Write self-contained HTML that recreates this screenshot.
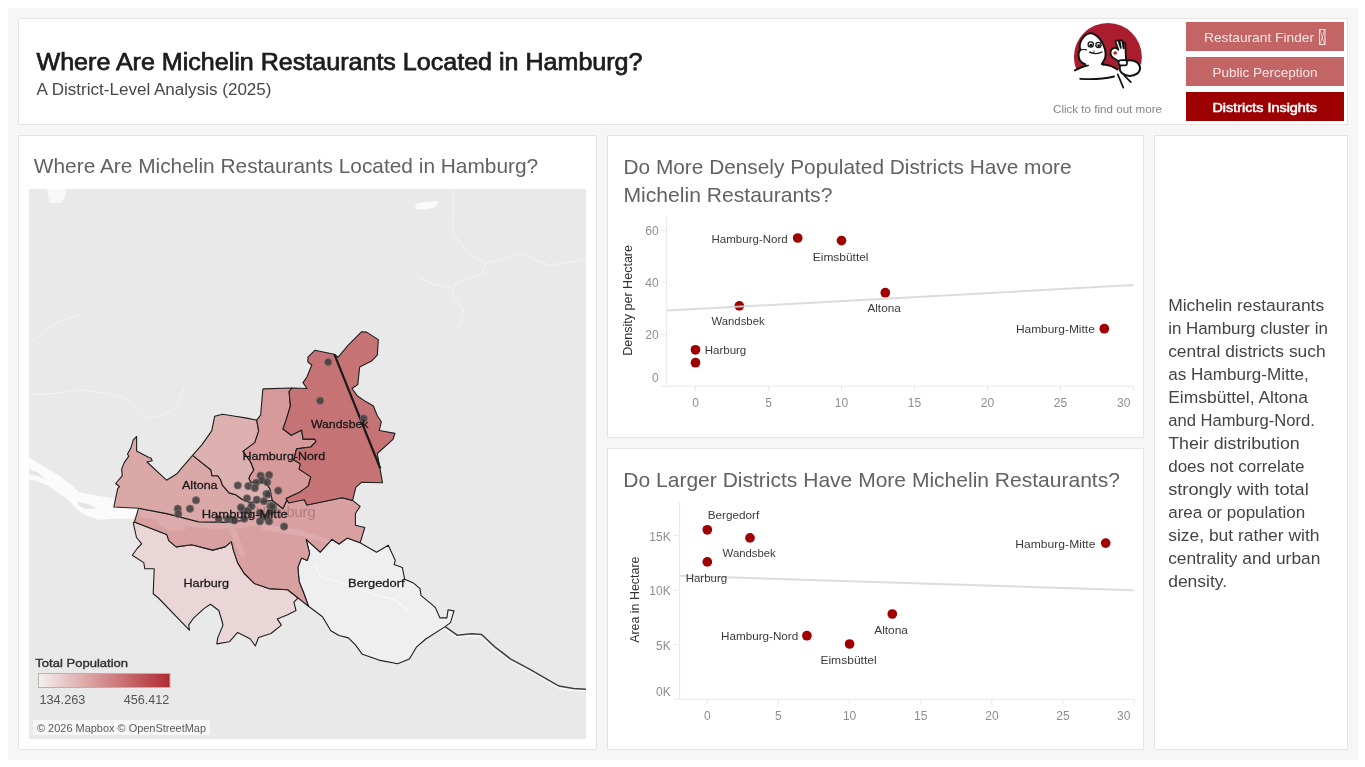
<!DOCTYPE html>
<html><head><meta charset="utf-8"><title>Michelin Hamburg</title>
<style>
*{margin:0;padding:0;box-sizing:border-box}
html,body{width:1365px;height:767px;overflow:hidden;background:#fff}
body{position:relative;font-family:"Liberation Sans", sans-serif}
.bg{position:absolute;left:8px;top:8px;width:1350px;height:752px;background:#f6f6f6}
.box{position:absolute;background:#fff;border:1px solid #e4e4e4}
svg{position:absolute;left:0;top:0;will-change:transform}
text{font-family:"Liberation Sans", sans-serif}
</style></head><body>
<div class="bg"></div>
<div class="box" style="left:18px;top:18px;width:1330px;height:107px"></div>
<div class="box" style="left:18px;top:135px;width:579px;height:615px"></div>
<div class="box" style="left:607px;top:135px;width:537px;height:303px"></div>
<div class="box" style="left:607px;top:448px;width:537px;height:302px"></div>
<div class="box" style="left:1154px;top:135px;width:194px;height:615px"></div>
<svg width="1365" height="767" viewBox="0 0 1365 767">
<text x="36.5" y="70" font-size="24.2" fill="#1c1c1c" textLength="606" lengthAdjust="spacingAndGlyphs" stroke="#1c1c1c" stroke-width="0.75">Where Are Michelin Restaurants Located in Hamburg?</text>
<text x="36.5" y="95" font-size="16" fill="#474747" textLength="235" lengthAdjust="spacingAndGlyphs">A District-Level Analysis (2025)</text>
<rect x="1186" y="22" width="158" height="29" fill="#c46565"/>
<rect x="1186" y="57" width="158" height="29" fill="#c46565"/>
<rect x="1186" y="92" width="158" height="29" fill="#9c0000"/>
<text x="1204" y="42" font-size="13.5" fill="#f6e6e6" textLength="110" lengthAdjust="spacingAndGlyphs">Restaurant Finder</text>
<rect x="1319.5" y="29.5" width="5.5" height="15" fill="none" stroke="#f6e6e6" stroke-width="1"/>
<path d="M1320 30 L1324.5 44.5 M1324.5 30 L1320 44.5" stroke="#f6e6e6" stroke-width="0.7"/>
<text x="1212.5" y="77.2" font-size="13.5" fill="#f6e6e6" textLength="105" lengthAdjust="spacingAndGlyphs">Public Perception</text>
<text x="1212.5" y="112" font-size="13.4" fill="#ffffff" textLength="104.5" lengthAdjust="spacingAndGlyphs" stroke="#ffffff" stroke-width="0.55">Districts Insights</text>
<text x="1053" y="113" font-size="11.6" fill="#868686" textLength="109" lengthAdjust="spacingAndGlyphs">Click to find out more</text>
<g transform="translate(1070 20) scale(0.09778)">
<circle cx="387.5" cy="377.5" r="347.5" fill="#a91d2f"/>
<path d="M30,525 C90,490 140,470 180,440 L330,430 L340,452 C390,455 450,475 490,505 L560,455 L600,412 C650,410 700,430 740,468 L767,468 L767,767 L0,767 L0,525 Z" fill="#fff"/>
<path d="M50,515 C100,488 140,470 185,462" fill="none" stroke="#111" stroke-width="20.2" stroke-linecap="round"/>
<path d="M165,458 C120,445 92,410 88,370 C85,340 92,318 106,305 C95,280 100,235 120,200 C140,165 170,140 205,135 C240,132 272,158 302,190 C332,225 350,265 358,300 C368,345 362,395 345,420 C338,432 330,442 325,450 L345,455" fill="#fff" stroke="#111" stroke-width="20.2" stroke-linejoin="round"/>
<path d="M104,308 C125,300 150,300 172,306" fill="none" stroke="#111" stroke-width="12.2"/>
<path d="M335,455 C395,458 450,478 492,512" fill="none" stroke="#111" stroke-width="20.2"/>
<ellipse cx="612" cy="492" rx="105" ry="80" fill="#fff" stroke="#111" stroke-width="20.2"/>
<path d="M440,385 C405,365 405,300 445,287 C465,281 485,290 495,305 L468,228 C462,208 485,200 497,218 L520,285 L508,220 C505,202 530,200 535,218 L548,290 L545,240 C548,222 565,225 565,242 L572,395 C568,430 525,445 492,420 Z" fill="#fff" stroke="#111" stroke-width="17.6" stroke-linejoin="round"/>
<circle cx="462" cy="337" r="18" fill="#a91d2f"/>
<rect x="498" y="410" width="85" height="55" rx="22" fill="#fff" stroke="#111" stroke-width="17.6"/>
<path d="M105,602 C210,608 350,602 450,578" fill="none" stroke="#111" stroke-width="20.2" stroke-linecap="round"/>
<path d="M488,555 L545,692 M556,568 L622,636" fill="none" stroke="#111" stroke-width="17.6" stroke-linecap="round"/>
<circle cx="212" cy="250" r="27" fill="#fff" stroke="#111" stroke-width="12.2"/>
<circle cx="214" cy="258" r="15" fill="#111"/>
<circle cx="291" cy="255" r="27" fill="#fff" stroke="#111" stroke-width="12.2"/>
<circle cx="294" cy="262" r="15" fill="#111"/>
<path d="M195,330 C250,350 300,345 332,325" fill="none" stroke="#111" stroke-width="10.8"/>
<path d="M205,318 L215,338 L245,335 L248,312" fill="none" stroke="#111" stroke-width="8.1"/>
</g>
<clipPath id="mc"><rect x="29" y="189" width="557" height="550"/></clipPath>
<g clip-path="url(#mc)">
<rect x="29" y="189" width="557" height="550" fill="#e9e9e9"/>
<polygon points="29.0,456.7 36.8,462.6 46.0,467.8 55.1,473.0 68.1,482.2 79.9,492.6 94.2,495.2 113.8,498.5 137.3,500.4 137.3,518.7 113.8,518.7 99.4,520.0 87.7,516.1 78.6,510.9 68.1,499.8 48.6,486.1 35.5,480.2 29.0,479.6" fill="#fbfbfb"/>
<polygon points="77.3,501.7 87.7,504.1 96.8,508.3 85.1,508.9 78.6,505.6" fill="#e4e4e4"/>
<polygon points="29.0,469.1 36.8,472.0 46.0,478.9 36.8,475.9 29.0,474.3" fill="#e6e6e6"/>
<polyline points="445.1,626.6 457.2,635.2 471.6,633.7 481.6,634.4 494.5,646.6 510.3,658.8 530.4,669.6 549,680.3 559,686.1 573.4,688.6 586,689.2" fill="none" stroke="#f6f6f6" stroke-width="3.2" transform="translate(0 1)"/>
<polyline points="445.1,626.6 457.2,635.2 471.6,633.7 481.6,634.4 494.5,646.6 510.3,658.8 530.4,669.6 549,680.3 559,686.1 573.4,688.6 586,689.2" fill="none" stroke="#3e3e3e" stroke-width="1.5"/>
<path d="M47,189 L66,189 L65,197 L61,203 L50,203 L48,196 Z" fill="#f8f8f8"/>
<g fill="none" stroke="#f4f4f4" stroke-width="1" opacity="0.9"><path d="M454,189 L452.4,231.4 L468.3,254.4 L486,263.2 L521.3,254.4 L549.6,265 L586,259.7"/><path d="M486,263.2 L482.5,273.8 L454.2,284.4 L452.4,295 L464.8,312.7 L456,330.3"/><path d="M418.9,277.3 L435,285 L450.7,288"/><path d="M29,345 L45,330 L58,322 L80,315"/><path d="M29,395 L60,393 L80,390 L105,393 L125,398 L140,410 L150,418 L170,413 L180,400 L185,385"/></g>
<path d="M415,204 L425,202 L438,201 L436,207 L425,209.5 L416,209 Z" fill="#fafafa"/>
<polygon points="306.1,539.3 320.2,552.2 331.9,539.3 339,544 347.2,538.1 360.1,542.8 376.5,552.2 388.3,545.2 395.3,560.4 394.1,564.6 402.3,567.4 404.7,579.2 412.9,582.7 420,588.6 421.1,595.6 430,602.9 435.2,607.3 439.9,617.9 446.9,617.9 448.1,609.7 454,610.9 450.5,622.6 445.1,626.6 425.8,639 416.4,647.2 409.4,659 397.6,663.7 378.9,660.1 362.4,654.3 355.4,644.9 348.4,637.9 339,635.5 330.8,630.8 322.5,616.7 308.5,606.2 303.8,593.3 299.1,581.5 297.9,567.4 301.4,558.1 307.3,560.4 309.6,553.4" fill="#efefef" stroke="#1e1e1e" stroke-width="1.1" stroke-linejoin="round"/>
<polyline points="315.5,565.1 320.2,576.8 331.9,580.4 346,583.9 362.4,590.9 378.9,595.6 395,600 410,612" fill="none" stroke="#fafafa" stroke-width="1.4" opacity="0.8"/>
<polygon points="134.4,521.9 166.7,534.4 168.8,540.7 176.1,546.9 191.7,544.8 212.6,550.1 225.1,546.9 231.4,541.7 233.4,550.1 237.6,562.6 243.9,573 254.3,583.4 268.9,588.6 287.7,589.7 298.1,598 293.9,602.2 296,610.5 287.7,614.7 277.2,618.9 281.4,625.1 271,633.5 258.5,637.6 255.3,646 250.1,638.7 237.6,632.4 229.3,641.8 216.8,643.9 217.8,637.6 223,625.1 222,621 218.8,610.5 210.5,604.3 204.2,608.4 193.8,617.8 188.6,625.1 189.6,630.3 158.4,598 153.2,593.8 154.2,568.8 144.8,568.8 143.8,562.6 132.3,555.3 137.5,548 141.7,543.8 136.5,537.5 133.3,522.9" fill="#ead6d6" stroke="#1e1e1e" stroke-width="1.1" stroke-linejoin="round"/>
<polygon points="138.6,508.3 166.7,513.6 200.1,520.9 227.1,522.4 242.4,520.5 251,515.7 250,502.4 272.4,500.5 282.9,508.6 287.1,499.5 304.3,499.8 306.9,505 342.1,497.8 352.6,500.4 360.1,506.4 355.4,513.5 355.4,525.2 364.8,527.5 360.1,542.8 347.2,538.1 339,544 331.9,539.3 320.2,552.2 306.1,539.3 309.6,553.4 307.3,560.4 301.4,558.1 297.9,567.4 299.1,581.5 303.8,593.3 308.5,606.2 298.1,598 287.7,589.7 268.9,588.6 254.3,583.4 243.9,573 237.6,562.6 233.4,550.1 231.4,541.7 225.1,546.9 212.6,550.1 191.7,544.8 176.1,546.9 168.8,540.7 166.7,534.4 134.4,521.9" fill="#d9a0a1" stroke="#1e1e1e" stroke-width="1.1" stroke-linejoin="round"/>
<clipPath id="mitc"><polygon points="138.6,508.3 166.7,513.6 200.1,520.9 227.1,522.4 242.4,520.5 251,515.7 250,502.4 272.4,500.5 282.9,508.6 287.1,499.5 304.3,499.8 306.9,505 342.1,497.8 352.6,500.4 360.1,506.4 355.4,513.5 355.4,525.2 364.8,527.5 360.1,542.8 347.2,538.1 339,544 331.9,539.3 320.2,552.2 306.1,539.3 309.6,553.4 307.3,560.4 301.4,558.1 297.9,567.4 299.1,581.5 303.8,593.3 308.5,606.2 298.1,598 287.7,589.7 268.9,588.6 254.3,583.4 243.9,573 237.6,562.6 233.4,550.1 231.4,541.7 225.1,546.9 212.6,550.1 191.7,544.8 176.1,546.9 168.8,540.7 166.7,534.4 134.4,521.9"/></clipPath>
<g clip-path="url(#mitc)" fill="#ffffff" opacity="0.12"><polygon points="136,508 166.7,513.6 200.1,520.9 227.1,522.4 256,519 262,524 240,528 215,529 190,527 166,522 140,517"/><polygon points="160,518 183,522 186,530 170,531 158,524"/><polygon points="227,522 233,523 240,540 246,556 242,558 234,542"/><polygon points="262,524 300,530 330,540 332,544 300,536 262,530"/></g>
<polygon points="136.6,436.5 136.6,450.9 149,457.4 150.9,458 152.2,460.7 147,462 166.5,480.2 177,473.7 183.5,465.9 192.6,455.4 211,470 211.9,475.7 217.6,475.7 220.5,479.5 222.4,485.2 229,492.9 235.7,494.8 242.4,499.5 250,502.4 251,515.7 242.4,520.5 227.1,522.4 198.6,521.9 166.7,513.6 138.6,508.3 113.8,507 117.7,488.7 119.6,486.7 115.7,483.5 122.3,475.6 121.6,469.1 124.2,462.6 128.8,456.1 127.5,454.1 130.7,448.3 133.3,439.8" fill="#dba8a8" stroke="#1e1e1e" stroke-width="1.1" stroke-linejoin="round"/>
<polygon points="192.6,455.4 202,444.6 211.7,430.9 214.7,416.2 222.5,414.2 235.2,416.2 246.9,418.1 256.7,420.1 258.7,430.9 254.8,442.6 243,451.4 250.8,462.2 253.8,470 250,475.7 249,478.6 251,482.4 265.2,481.4 270,489 272.4,500.5 250,502.4 242.4,499.5 235.7,494.8 229,492.9 222.4,485.2 220.5,479.5 217.6,475.7 211.9,475.7 211,470" fill="#deb1b1" stroke="#1e1e1e" stroke-width="1.1" stroke-linejoin="round"/>
<polygon points="263,388.9 292,388 289.1,391.5 290.4,405.9 286.5,418.9 283,429 291.3,435.2 301.7,430 303,439.1 314.7,439.1 316,441.7 310.8,447 296.5,448.9 293.9,460 300.4,463.9 299.1,469.1 310.8,476.9 308.2,486.1 299.1,492.6 286.1,498.4 287.1,499.5 282.9,508.6 272.4,500.5 270,489 265.2,481.4 251,482.4 249,478.6 250,475.7 253.8,470 250.8,462.2 243,451.4 254.8,442.6 258.7,430.9 256.7,420.1 260.6,415.2 262.6,391.7" fill="#d69a9b" stroke="#1e1e1e" stroke-width="1.1" stroke-linejoin="round"/>
<polygon points="292,388 307,388.5 303,382.6 307,376.7 311.8,365 307.9,362 307.9,357.2 314.8,350.3 334.3,354.2 338.2,357.2 348,345.4 361.7,331.7 366.6,332.1 378.3,339.6 377.3,355.2 371.5,361.1 359.7,367 357.8,384.5 352,388.5 357.8,396.3 366.6,402.1 373.4,406 377.3,415.8 381.3,421.7 379.3,430.5 395,433.4 393,439.3 377.3,453.5 379.9,467.8 382.5,482.8 361.7,482.2 355.8,487.4 352.6,500.4 342.1,497.8 306.9,505 304.3,499.8 288.7,503 286.1,498.4 299.1,492.6 308.2,486.1 310.8,476.9 299.1,469.1 300.4,463.9 293.9,460 296.5,448.9 310.8,447 316,441.7 314.7,439.1 303,439.1 301.7,430 291.3,435.2 283,429 286.5,418.9 290.4,405.9 289.1,391.5" fill="#c67376" stroke="#1e1e1e" stroke-width="1.1" stroke-linejoin="round"/>
<line x1="334.3" y1="354.2" x2="380.3" y2="468.5" stroke="#1a1a1a" stroke-width="2.2"/>
<text x="315.5" y="517.3" font-size="14.5" fill="#b27c7d" text-anchor="end">Hamburg</text>
<circle cx="328.2" cy="362.1" r="3.7" fill="#443f3f" fill-opacity="0.88" stroke="#767070" stroke-opacity="0.9" stroke-width="0.9"/>
<circle cx="320.2" cy="400.7" r="3.7" fill="#443f3f" fill-opacity="0.88" stroke="#767070" stroke-opacity="0.9" stroke-width="0.9"/>
<circle cx="363.7" cy="418.4" r="3.7" fill="#443f3f" fill-opacity="0.88" stroke="#767070" stroke-opacity="0.9" stroke-width="0.9"/>
<circle cx="260.6" cy="475.6" r="3.7" fill="#443f3f" fill-opacity="0.88" stroke="#767070" stroke-opacity="0.9" stroke-width="0.9"/>
<circle cx="269.1" cy="475" r="3.7" fill="#443f3f" fill-opacity="0.88" stroke="#767070" stroke-opacity="0.9" stroke-width="0.9"/>
<circle cx="262" cy="480.2" r="3.7" fill="#443f3f" fill-opacity="0.88" stroke="#767070" stroke-opacity="0.9" stroke-width="0.9"/>
<circle cx="267.2" cy="482.2" r="3.7" fill="#443f3f" fill-opacity="0.88" stroke="#767070" stroke-opacity="0.9" stroke-width="0.9"/>
<circle cx="256.1" cy="482.8" r="3.7" fill="#443f3f" fill-opacity="0.88" stroke="#767070" stroke-opacity="0.9" stroke-width="0.9"/>
<circle cx="237.8" cy="485.4" r="3.7" fill="#443f3f" fill-opacity="0.88" stroke="#767070" stroke-opacity="0.9" stroke-width="0.9"/>
<circle cx="248.3" cy="486.1" r="3.7" fill="#443f3f" fill-opacity="0.88" stroke="#767070" stroke-opacity="0.9" stroke-width="0.9"/>
<circle cx="254.8" cy="488" r="3.7" fill="#443f3f" fill-opacity="0.88" stroke="#767070" stroke-opacity="0.9" stroke-width="0.9"/>
<circle cx="278.2" cy="490.6" r="3.7" fill="#443f3f" fill-opacity="0.88" stroke="#767070" stroke-opacity="0.9" stroke-width="0.9"/>
<circle cx="266.5" cy="493.9" r="3.7" fill="#443f3f" fill-opacity="0.88" stroke="#767070" stroke-opacity="0.9" stroke-width="0.9"/>
<circle cx="247" cy="498.4" r="3.7" fill="#443f3f" fill-opacity="0.88" stroke="#767070" stroke-opacity="0.9" stroke-width="0.9"/>
<circle cx="256.7" cy="499.8" r="3.7" fill="#443f3f" fill-opacity="0.88" stroke="#767070" stroke-opacity="0.9" stroke-width="0.9"/>
<circle cx="263.9" cy="501.1" r="3.7" fill="#443f3f" fill-opacity="0.88" stroke="#767070" stroke-opacity="0.9" stroke-width="0.9"/>
<circle cx="267.8" cy="494.3" r="3.7" fill="#443f3f" fill-opacity="0.88" stroke="#767070" stroke-opacity="0.9" stroke-width="0.9"/>
<circle cx="251.5" cy="506.3" r="3.7" fill="#443f3f" fill-opacity="0.88" stroke="#767070" stroke-opacity="0.9" stroke-width="0.9"/>
<circle cx="270.4" cy="506.3" r="3.7" fill="#443f3f" fill-opacity="0.88" stroke="#767070" stroke-opacity="0.9" stroke-width="0.9"/>
<circle cx="273" cy="507.6" r="3.7" fill="#443f3f" fill-opacity="0.88" stroke="#767070" stroke-opacity="0.9" stroke-width="0.9"/>
<circle cx="243" cy="510.8" r="3.7" fill="#443f3f" fill-opacity="0.88" stroke="#767070" stroke-opacity="0.9" stroke-width="0.9"/>
<circle cx="247.6" cy="510.8" r="3.7" fill="#443f3f" fill-opacity="0.88" stroke="#767070" stroke-opacity="0.9" stroke-width="0.9"/>
<circle cx="260" cy="512.8" r="3.7" fill="#443f3f" fill-opacity="0.88" stroke="#767070" stroke-opacity="0.9" stroke-width="0.9"/>
<circle cx="270.4" cy="512.1" r="3.7" fill="#443f3f" fill-opacity="0.88" stroke="#767070" stroke-opacity="0.9" stroke-width="0.9"/>
<circle cx="233.9" cy="520" r="3.7" fill="#443f3f" fill-opacity="0.88" stroke="#767070" stroke-opacity="0.9" stroke-width="0.9"/>
<circle cx="244.3" cy="518.7" r="3.7" fill="#443f3f" fill-opacity="0.88" stroke="#767070" stroke-opacity="0.9" stroke-width="0.9"/>
<circle cx="260" cy="521.3" r="3.7" fill="#443f3f" fill-opacity="0.88" stroke="#767070" stroke-opacity="0.9" stroke-width="0.9"/>
<circle cx="269.1" cy="521.3" r="3.7" fill="#443f3f" fill-opacity="0.88" stroke="#767070" stroke-opacity="0.9" stroke-width="0.9"/>
<circle cx="284.1" cy="526.5" r="3.7" fill="#443f3f" fill-opacity="0.88" stroke="#767070" stroke-opacity="0.9" stroke-width="0.9"/>
<circle cx="177.7" cy="508.7" r="3.7" fill="#443f3f" fill-opacity="0.88" stroke="#767070" stroke-opacity="0.9" stroke-width="0.9"/>
<circle cx="178.3" cy="513.9" r="3.7" fill="#443f3f" fill-opacity="0.88" stroke="#767070" stroke-opacity="0.9" stroke-width="0.9"/>
<circle cx="190" cy="508.7" r="3.7" fill="#443f3f" fill-opacity="0.88" stroke="#767070" stroke-opacity="0.9" stroke-width="0.9"/>
<circle cx="196" cy="500.3" r="3.7" fill="#443f3f" fill-opacity="0.88" stroke="#767070" stroke-opacity="0.9" stroke-width="0.9"/>
<circle cx="218.7" cy="519.1" r="3.7" fill="#443f3f" fill-opacity="0.88" stroke="#767070" stroke-opacity="0.9" stroke-width="0.9"/>
<circle cx="227.8" cy="519.1" r="3.7" fill="#443f3f" fill-opacity="0.88" stroke="#767070" stroke-opacity="0.9" stroke-width="0.9"/>
<circle cx="234.4" cy="520.4" r="3.7" fill="#443f3f" fill-opacity="0.88" stroke="#767070" stroke-opacity="0.9" stroke-width="0.9"/>
<circle cx="272.2" cy="506.1" r="3.7" fill="#443f3f" fill-opacity="0.88" stroke="#767070" stroke-opacity="0.9" stroke-width="0.9"/>
<circle cx="240.9" cy="507.4" r="3.7" fill="#443f3f" fill-opacity="0.88" stroke="#767070" stroke-opacity="0.9" stroke-width="0.9"/>
<circle cx="265" cy="517" r="3.7" fill="#443f3f" fill-opacity="0.88" stroke="#767070" stroke-opacity="0.9" stroke-width="0.9"/>
<g stroke="#1a1a1a" stroke-width="0.28">
<text x="339.7" y="427.7" font-size="11.6" fill="#1a1a1a" text-anchor="middle" textLength="57.6" lengthAdjust="spacingAndGlyphs">Wandsbek</text>
<text x="283.8" y="460.1" font-size="11.6" fill="#1a1a1a" text-anchor="middle" textLength="82.8" lengthAdjust="spacingAndGlyphs">Hamburg-Nord</text>
<text x="199.8" y="489.1" font-size="11.6" fill="#1a1a1a" text-anchor="middle" textLength="35.6" lengthAdjust="spacingAndGlyphs">Altona</text>
<text x="244.7" y="517.5" font-size="11.6" fill="#1a1a1a" text-anchor="middle" textLength="86.1" lengthAdjust="spacingAndGlyphs">Hamburg-Mitte</text>
<text x="206.3" y="586.6" font-size="11.6" fill="#1a1a1a" text-anchor="middle" textLength="45.6" lengthAdjust="spacingAndGlyphs">Harburg</text>
<text x="376.3" y="587.4" font-size="11.6" fill="#1a1a1a" text-anchor="middle" textLength="56.5" lengthAdjust="spacingAndGlyphs">Bergedorf</text>
</g>
<text x="35.3" y="667" font-size="11.8" fill="#333" textLength="92.8" lengthAdjust="spacingAndGlyphs" stroke="#333" stroke-width="0.4">Total Population</text>
<defs><linearGradient id="lg" x1="0" x2="1"><stop offset="0" stop-color="#f4f0f0"/><stop offset="0.5" stop-color="#d58c8e"/><stop offset="1" stop-color="#b02a32"/></linearGradient></defs>
<rect x="38.5" y="673.5" width="131.5" height="14" fill="url(#lg)" stroke="#b9b3a6" stroke-width="1"/>
<text x="39.4" y="704" font-size="12.5" fill="#555" textLength="46" lengthAdjust="spacingAndGlyphs">134.263</text>
<text x="123.7" y="704" font-size="12.5" fill="#555" textLength="45.6" lengthAdjust="spacingAndGlyphs">456.412</text>
<rect x="33" y="720" width="177" height="15" fill="#f7f7f7"/>
<text x="37" y="732" font-size="11" fill="#5a5a5a" textLength="169" lengthAdjust="spacingAndGlyphs">© 2026 Mapbox © OpenStreetMap</text>
</g>
<text x="33.8" y="173.3" font-size="20.8" fill="#626262" textLength="504.4" lengthAdjust="spacingAndGlyphs">Where Are Michelin Restaurants Located in Hamburg?</text>
<line x1="666.7" y1="217" x2="666.7" y2="386" stroke="#e8e8e8" stroke-width="1"/>
<line x1="661" y1="386.2" x2="1133.5" y2="386.2" stroke="#e8e8e8" stroke-width="1"/>
<line x1="661.5" y1="334.2" x2="666.5" y2="334.2" stroke="#e8e8e8"/>
<text x="658.6" y="339.2" font-size="12" fill="#8e8e8e" text-anchor="end">20</text>
<line x1="661.5" y1="282.2" x2="666.5" y2="282.2" stroke="#e8e8e8"/>
<text x="658.6" y="287.2" font-size="12" fill="#8e8e8e" text-anchor="end">40</text>
<line x1="661.5" y1="230.2" x2="666.5" y2="230.2" stroke="#e8e8e8"/>
<text x="658.6" y="235.2" font-size="12" fill="#8e8e8e" text-anchor="end">60</text>
<text x="658.6" y="382.2" font-size="12" fill="#8e8e8e" text-anchor="end">0</text>
<line x1="695.5" y1="386.2" x2="695.5" y2="390.7" stroke="#e8e8e8"/>
<text x="695.5" y="407.3" font-size="12" fill="#8e8e8e" text-anchor="middle">0</text>
<line x1="768.5" y1="386.2" x2="768.5" y2="390.7" stroke="#e8e8e8"/>
<text x="768.5" y="407.3" font-size="12" fill="#8e8e8e" text-anchor="middle">5</text>
<line x1="841.5" y1="386.2" x2="841.5" y2="390.7" stroke="#e8e8e8"/>
<text x="841.5" y="407.3" font-size="12" fill="#8e8e8e" text-anchor="middle">10</text>
<line x1="914.5" y1="386.2" x2="914.5" y2="390.7" stroke="#e8e8e8"/>
<text x="914.5" y="407.3" font-size="12" fill="#8e8e8e" text-anchor="middle">15</text>
<line x1="987.5" y1="386.2" x2="987.5" y2="390.7" stroke="#e8e8e8"/>
<text x="987.5" y="407.3" font-size="12" fill="#8e8e8e" text-anchor="middle">20</text>
<line x1="1060.5" y1="386.2" x2="1060.5" y2="390.7" stroke="#e8e8e8"/>
<text x="1060.5" y="407.3" font-size="12" fill="#8e8e8e" text-anchor="middle">25</text>
<line x1="1133.5" y1="386.2" x2="1133.5" y2="390.7" stroke="#e8e8e8"/>
<text x="1123.7" y="407.3" font-size="12" fill="#8e8e8e" text-anchor="middle">30</text>
<text x="0" y="0" font-size="12" fill="#333" text-anchor="middle" transform="translate(632.3 300.4) rotate(-90)" textLength="110.8" lengthAdjust="spacingAndGlyphs">Density per Hectare</text>
<circle cx="797.7" cy="238.0" r="4.85" fill="#a00000"/>
<circle cx="841.5" cy="240.6" r="4.85" fill="#a00000"/>
<circle cx="885.3" cy="292.7" r="4.85" fill="#a00000"/>
<circle cx="739.3" cy="305.9" r="4.85" fill="#a00000"/>
<circle cx="1104.3" cy="328.7" r="4.85" fill="#a00000"/>
<circle cx="695.5" cy="349.8" r="4.85" fill="#a00000"/>
<circle cx="695.5" cy="362.7" r="4.85" fill="#a00000"/>
<line x1="667" y1="310.6" x2="1133.5" y2="285.1" stroke="#d6d6d6" stroke-width="2" stroke-opacity="0.85"/>
<text x="711.5" y="243.2" font-size="11.5" fill="#3a3a3a" textLength="76.2" lengthAdjust="spacingAndGlyphs">Hamburg-Nord</text>
<text x="812.8" y="261.2" font-size="11.5" fill="#3a3a3a" textLength="55.7" lengthAdjust="spacingAndGlyphs">Eimsbüttel</text>
<text x="867.4" y="311.9" font-size="11.5" fill="#3a3a3a" textLength="33.4" lengthAdjust="spacingAndGlyphs">Altona</text>
<text x="711.5" y="324.7" font-size="11.5" fill="#3a3a3a" textLength="53.1" lengthAdjust="spacingAndGlyphs">Wandsbek</text>
<text x="1015.9" y="332.7" font-size="11.5" fill="#3a3a3a" textLength="78.9" lengthAdjust="spacingAndGlyphs">Hamburg-Mitte</text>
<text x="704.7" y="354.1" font-size="11.5" fill="#3a3a3a" textLength="41.6" lengthAdjust="spacingAndGlyphs">Harburg</text>
<text x="623.5" y="174.1" font-size="20.8" fill="#626262" textLength="448" lengthAdjust="spacingAndGlyphs">Do More Densely Populated Districts Have more</text>
<text x="623.5" y="201.9" font-size="20.8" fill="#626262" textLength="208.9" lengthAdjust="spacingAndGlyphs">Michelin Restaurants?</text>
<line x1="679.6" y1="502" x2="679.6" y2="699" stroke="#e8e8e8" stroke-width="1"/>
<line x1="674.3" y1="699.2" x2="1133.5" y2="699.2" stroke="#e8e8e8" stroke-width="1"/>
<line x1="673.5" y1="644.7" x2="679" y2="644.7" stroke="#e8e8e8"/>
<text x="670.7" y="649.7" font-size="12" fill="#8e8e8e" text-anchor="end">5K</text>
<line x1="673.5" y1="590.2" x2="679" y2="590.2" stroke="#e8e8e8"/>
<text x="670.7" y="595.2" font-size="12" fill="#8e8e8e" text-anchor="end">10K</text>
<line x1="673.5" y1="535.7" x2="679" y2="535.7" stroke="#e8e8e8"/>
<text x="670.7" y="540.7" font-size="12" fill="#8e8e8e" text-anchor="end">15K</text>
<text x="670.7" y="695.5" font-size="12" fill="#8e8e8e" text-anchor="end">0K</text>
<line x1="707.3" y1="699.2" x2="707.3" y2="703.7" stroke="#e8e8e8"/>
<text x="707.3" y="720.1" font-size="12" fill="#8e8e8e" text-anchor="middle">0</text>
<line x1="778.4" y1="699.2" x2="778.4" y2="703.7" stroke="#e8e8e8"/>
<text x="778.4" y="720.1" font-size="12" fill="#8e8e8e" text-anchor="middle">5</text>
<line x1="849.6" y1="699.2" x2="849.6" y2="703.7" stroke="#e8e8e8"/>
<text x="849.6" y="720.1" font-size="12" fill="#8e8e8e" text-anchor="middle">10</text>
<line x1="920.8" y1="699.2" x2="920.8" y2="703.7" stroke="#e8e8e8"/>
<text x="920.8" y="720.1" font-size="12" fill="#8e8e8e" text-anchor="middle">15</text>
<line x1="991.9" y1="699.2" x2="991.9" y2="703.7" stroke="#e8e8e8"/>
<text x="991.9" y="720.1" font-size="12" fill="#8e8e8e" text-anchor="middle">20</text>
<line x1="1063.0" y1="699.2" x2="1063.0" y2="703.7" stroke="#e8e8e8"/>
<text x="1063.0" y="720.1" font-size="12" fill="#8e8e8e" text-anchor="middle">25</text>
<line x1="1134.2" y1="699.2" x2="1134.2" y2="703.7" stroke="#e8e8e8"/>
<text x="1123.8" y="720.1" font-size="12" fill="#8e8e8e" text-anchor="middle">30</text>
<text x="0" y="0" font-size="12" fill="#333" text-anchor="middle" transform="translate(639.4 599.7) rotate(-90)" textLength="86.3" lengthAdjust="spacingAndGlyphs">Area in Hectare</text>
<circle cx="707.3" cy="529.8" r="4.85" fill="#a00000"/>
<circle cx="750.0" cy="537.9" r="4.85" fill="#a00000"/>
<circle cx="707.3" cy="561.9" r="4.85" fill="#a00000"/>
<circle cx="1105.7" cy="543.1" r="4.85" fill="#a00000"/>
<circle cx="892.3" cy="614.0" r="4.85" fill="#a00000"/>
<circle cx="806.9" cy="635.7" r="4.85" fill="#a00000"/>
<circle cx="849.6" cy="644.0" r="4.85" fill="#a00000"/>
<line x1="680.2" y1="575.8" x2="1133.5" y2="590.3" stroke="#d6d6d6" stroke-width="2" stroke-opacity="0.85"/>
<text x="707.7" y="518.8" font-size="11.5" fill="#3a3a3a" textLength="51.6" lengthAdjust="spacingAndGlyphs">Bergedorf</text>
<text x="722.6" y="556.9" font-size="11.5" fill="#3a3a3a" textLength="53.2" lengthAdjust="spacingAndGlyphs">Wandsbek</text>
<text x="685.7" y="582" font-size="11.5" fill="#3a3a3a" textLength="41.5" lengthAdjust="spacingAndGlyphs">Harburg</text>
<text x="1015.3" y="548.3" font-size="11.5" fill="#3a3a3a" textLength="80.1" lengthAdjust="spacingAndGlyphs">Hamburg-Mitte</text>
<text x="874.2" y="634.3" font-size="11.5" fill="#3a3a3a" textLength="33.8" lengthAdjust="spacingAndGlyphs">Altona</text>
<text x="721" y="640.2" font-size="11.5" fill="#3a3a3a" textLength="77.2" lengthAdjust="spacingAndGlyphs">Hamburg-Nord</text>
<text x="820.4" y="664" font-size="11.5" fill="#3a3a3a" textLength="56.3" lengthAdjust="spacingAndGlyphs">Eimsbüttel</text>
<text x="623.3" y="487.2" font-size="20.8" fill="#626262" textLength="496.6" lengthAdjust="spacingAndGlyphs">Do Larger Districts Have More Michelin Restaurants?</text>
<text x="1168.2" y="311.2" font-size="16.8" fill="#444444" textLength="156.0" lengthAdjust="spacingAndGlyphs">Michelin restaurants</text>
<text x="1168.2" y="334.2" font-size="16.8" fill="#444444" textLength="159.6" lengthAdjust="spacingAndGlyphs">in Hamburg cluster in</text>
<text x="1168.2" y="357.2" font-size="16.8" fill="#444444" textLength="157.4" lengthAdjust="spacingAndGlyphs">central districts such</text>
<text x="1168.2" y="380.2" font-size="16.8" fill="#444444" textLength="140.5" lengthAdjust="spacingAndGlyphs">as Hamburg-Mitte,</text>
<text x="1168.2" y="403.2" font-size="16.8" fill="#444444" textLength="139.7" lengthAdjust="spacingAndGlyphs">Eimsbüttel, Altona</text>
<text x="1168.2" y="426.2" font-size="16.8" fill="#444444" textLength="146.6" lengthAdjust="spacingAndGlyphs">and Hamburg-Nord.</text>
<text x="1168.2" y="449.2" font-size="16.8" fill="#444444" textLength="131.5" lengthAdjust="spacingAndGlyphs">Their distribution</text>
<text x="1168.2" y="472.2" font-size="16.8" fill="#444444" textLength="136.2" lengthAdjust="spacingAndGlyphs">does not correlate</text>
<text x="1168.2" y="495.2" font-size="16.8" fill="#444444" textLength="140.6" lengthAdjust="spacingAndGlyphs">strongly with total</text>
<text x="1168.2" y="518.2" font-size="16.8" fill="#444444" textLength="137.0" lengthAdjust="spacingAndGlyphs">area or population</text>
<text x="1168.2" y="541.2" font-size="16.8" fill="#444444" textLength="151.3" lengthAdjust="spacingAndGlyphs">size, but rather with</text>
<text x="1168.2" y="564.2" font-size="16.8" fill="#444444" textLength="152.1" lengthAdjust="spacingAndGlyphs">centrality and urban</text>
<text x="1168.2" y="587.2" font-size="16.8" fill="#444444" textLength="58.9" lengthAdjust="spacingAndGlyphs">density.</text>
</svg>
</body></html>
